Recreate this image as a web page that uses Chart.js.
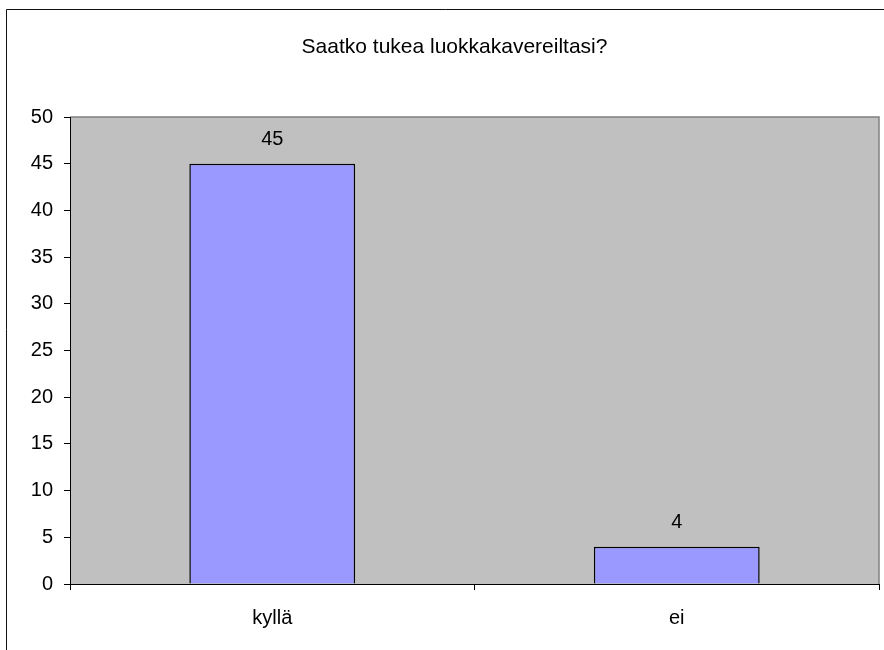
<!DOCTYPE html>
<html>
<head>
<meta charset="utf-8">
<script src="https://cdn.jsdelivr.net/npm/chart.js@4/dist/chart.umd.min.js"></script>
<style>
  body { margin: 0; background: #fff; }
  #wrap { width: 884px; height: 650px; }
</style>
</head>
<body>
<div id="wrap"><canvas id="chart" width="884" height="650"></canvas></div>
<script>
// --- Data ---
const chartTitle = 'Saatko tukea luokkakavereiltasi?';
const categories = ['kyllä', 'ei'];
const answers = [45, 4];
const yTicks = [0, 5, 10, 15, 20, 25, 30, 35, 40, 45, 50];

// grey plot area + outer frame (Excel look)
const frame = {
    id: 'frame',
    beforeDraw(chart) {
        const { ctx, chartArea: a } = chart;
        ctx.save();
        ctx.fillStyle = '#c0c0c0';
        ctx.fillRect(a.left, a.top, a.right - a.left, a.bottom - a.top);
        ctx.strokeStyle = '#808080';
        ctx.lineWidth = 1.5;
        ctx.beginPath();
        ctx.moveTo(a.left, a.top);
        ctx.lineTo(a.right, a.top);
        ctx.lineTo(a.right, a.bottom);
        ctx.stroke();
        ctx.strokeStyle = '#111';
        ctx.lineWidth = 1;
        ctx.beginPath();
        ctx.moveTo(6.5, chart.height);
        ctx.lineTo(6.5, 9.5);
        ctx.lineTo(chart.width, 9.5);
        ctx.stroke();
        ctx.restore();
    }
};

// value labels above the bars
const valueLabels = {
    id: 'valueLabels',
    afterDatasetsDraw(chart) {
        const { ctx } = chart;
        const meta = chart.getDatasetMeta(0);
        ctx.save();
        ctx.font = '20px "Liberation Sans", Arial, sans-serif';
        ctx.fillStyle = '#000';
        ctx.textAlign = 'center';
        ctx.textBaseline = 'middle';
        meta.data.forEach((bar, i) => {
            ctx.fillText(String(answers[i]), bar.x, bar.y - 24);
        });
        ctx.restore();
    }
};

Chart.defaults.font.family = '"Liberation Sans", Arial, sans-serif';
Chart.defaults.color = '#000';

new Chart(document.getElementById('chart'), {
    type: 'bar',
    data: {
        labels: categories,
        datasets: [{
            data: answers,
            backgroundColor: '#9999ff',
            borderColor: '#000',
            borderWidth: 1.5,
            borderSkipped: 'bottom',
            barPercentage: 0.41,
            categoryPercentage: 1
        }]
    },
    options: {
        responsive: false,
        animation: false,
        layout: { padding: { left: 30, right: 5, top: 0, bottom: 0 } },
        plugins: {
            legend: { display: false },
            tooltip: { enabled: false },
            title: {
                display: true,
                text: chartTitle,
                font: { size: 21, weight: 'normal' },
                padding: { top: 34.4, bottom: 57.4 }
            }
        },
        scales: {
            x: {
                grid: { offset: true, drawOnChartArea: false, color: '#000', tickLength: 6 },
                border: { color: '#000', width: 1 },
                ticks: { font: { size: 20 }, padding: 16 },
                afterFit(scale) { scale.height = 66; }
            },
            y: {
                min: 0,
                max: 50,
                afterBuildTicks(scale) { scale.ticks = yTicks.map(v => ({ value: v })); },
                grid: { drawOnChartArea: false, color: '#000', tickLength: 6 },
                border: { color: '#000', width: 1 },
                ticks: { font: { size: 20 }, padding: 11 },
                afterFit(scale) { scale.width = 40; }
            }
        }
    },
    plugins: [frame, valueLabels]
});
</script>
</body>
</html>
